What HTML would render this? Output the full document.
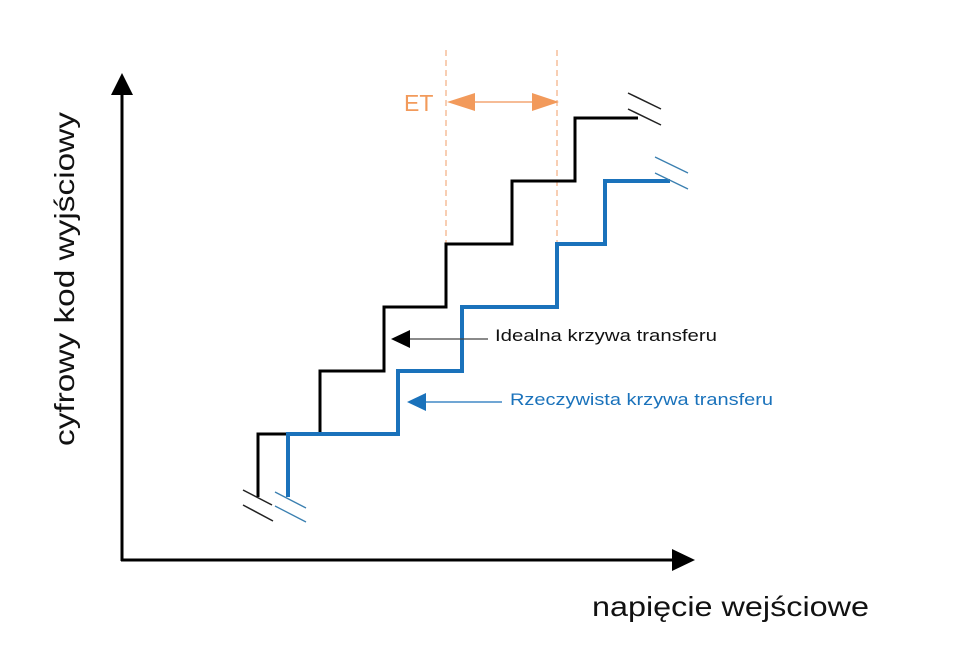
<!DOCTYPE html>
<html><head><meta charset="utf-8"><style>html,body{margin:0;padding:0;background:#fff}svg{display:block}</style></head>
<body>
<svg width="970" height="647" viewBox="0 0 970 647" xmlns="http://www.w3.org/2000/svg" font-family="Liberation Sans, DejaVu Sans, sans-serif">
<line x1="122" y1="561" x2="122" y2="90" stroke="#000" stroke-width="3"/>
<polygon points="122,73 111,95 133,95" fill="#000"/>
<line x1="121" y1="560" x2="675" y2="560" stroke="#000" stroke-width="3"/>
<polygon points="695,560 672,549 672,571" fill="#000"/>
<line x1="446" y1="50" x2="446" y2="258" stroke="#f4b48a" stroke-width="1.3" stroke-dasharray="6,4"/>
<line x1="557" y1="50" x2="557" y2="258" stroke="#f4b48a" stroke-width="1.3" stroke-dasharray="6,4"/>
<line x1="460" y1="102" x2="545" y2="102" stroke="#f4a673" stroke-width="1.5"/>
<polygon points="447,102 475,93 475,111" fill="#f29a5b"/>
<polygon points="559,102 532,93 532,111" fill="#f29a5b"/>
<text x="404" y="111" font-size="23" fill="#f29a5b">ET</text>
<polyline points="258,497 258,434 320,434 320,371 384,371 384,307 446,307 446,244 512,244 512,181 575,181 575,118 638,118" fill="none" stroke="#000" stroke-width="3"/>
<polyline points="288,497 288,434 398,434 398,371 462,371 462,307 557,307 557,244 605,244 605,181 670,181" fill="none" stroke="#1a72bb" stroke-width="4"/>
<g stroke="#222" stroke-width="1.5">
<line x1="243" y1="490" x2="272" y2="505"/><line x1="243" y1="505" x2="273" y2="521"/>
<line x1="628" y1="93" x2="661" y2="109"/><line x1="628" y1="109" x2="661" y2="125"/>
</g>
<g stroke="#3a7fb0" stroke-width="1.3">
<line x1="275" y1="492" x2="306" y2="508"/><line x1="275" y1="506" x2="306" y2="522"/>
<line x1="655" y1="157" x2="688" y2="173"/><line x1="655" y1="173" x2="688" y2="189"/>
</g>
<line x1="408" y1="339" x2="488" y2="339" stroke="#444" stroke-width="1.2"/>
<polygon points="391,339 410,330 410,348" fill="#000"/>
<line x1="424" y1="402" x2="502" y2="402" stroke="#1a72bb" stroke-width="1.2"/>
<polygon points="407,402 426,393 426,411" fill="#1a72bb"/>
<text x="495" y="341" font-size="17" fill="#111" textLength="222" lengthAdjust="spacingAndGlyphs">Idealna krzywa transferu</text>
<text x="510" y="405" font-size="17" fill="#1a72bb" textLength="263" lengthAdjust="spacingAndGlyphs">Rzeczywista krzywa transferu</text>
<text x="592" y="616" font-size="28" fill="#111" textLength="277" lengthAdjust="spacingAndGlyphs">napięcie wejściowe</text>
<text transform="translate(74,446) rotate(-90)" font-size="28" fill="#111" textLength="334" lengthAdjust="spacingAndGlyphs">cyfrowy kod wyjściowy</text>
</svg>
</body></html>
